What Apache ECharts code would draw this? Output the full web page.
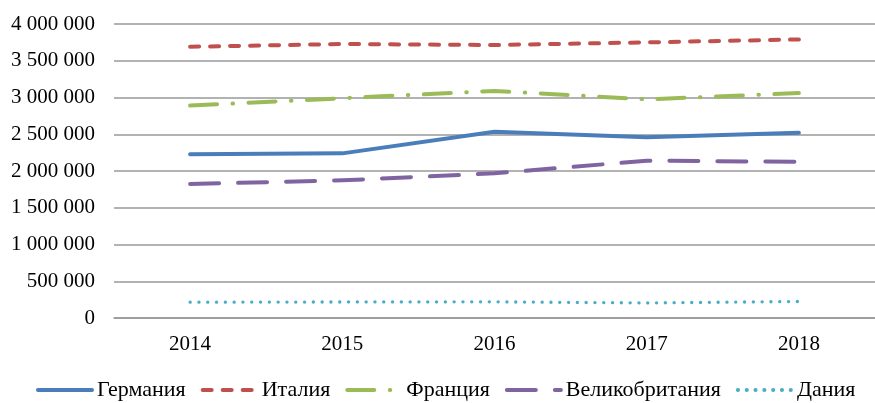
<!DOCTYPE html>
<html>
<head>
<meta charset="utf-8">
<script src="https://cdn.jsdelivr.net/npm/echarts@6/dist/echarts.min.js"></script>
<style>html,body{margin:0;padding:0;background:#fff;}#c{width:875px;height:403px;}</style>
</head>
<body>
<div id="c"></div>
<script>
const years = ['2014', '2015', '2016', '2017', '2018'];
const germany = [2227000, 2240000, 2535000, 2458000, 2520000];
const italy = [3690000, 3728000, 3714000, 3750000, 3790000];
const france = [2890000, 2990000, 3090000, 2975000, 3060000];
const uk = [1823000, 1873000, 1968000, 2140000, 2125000];
const denmark = [215000, 218000, 220000, 205000, 225000];
const seriesNames = ['Германия', 'Италия', 'Франция', 'Великобритания', 'Дания'];

const font = 'Liberation Serif';
function fmt(v) {
  return String(v).replace(/\B(?=(\d{3})+(?!\d))/g, ' ');
}
function mk(name, data, color, type, width) {
  return {
    name: name, type: 'line', data: data, symbol: 'none', smooth: false,
    lineStyle: { color: color, width: width, type: type, cap: 'round', join: 'round' },
    itemStyle: { color: color },
    emphasis: { disabled: true }
  };
}
const chart = echarts.init(document.getElementById('c'));
chart.setOption({
  animation: false,
  backgroundColor: '#fff',
  textStyle: { fontFamily: font },
  grid: { left: 114, right: -8, top: 24, bottom: 85, containLabel: false },
  legend: {
    left: 31, top: 374, itemWidth: 54, itemHeight: 14, itemGap: 15,
    itemStyle: { opacity: 0, borderWidth: 0 },
    lineStyle: { width: 4, cap: 'round' },
    textStyle: { fontFamily: font, fontSize: 22, color: '#000', padding: [0, 0, 0, 0] },
    data: seriesNames
  },
  xAxis: {
    type: 'category', data: years, boundaryGap: true,
    axisLine: { lineStyle: { color: '#999', width: 1.5 } },
    axisTick: { show: false },
    axisLabel: { fontFamily: font, fontSize: 21, color: '#000', margin: 16 }
  },
  yAxis: {
    type: 'value', min: 0, max: 4000000, interval: 500000,
    axisLine: { show: false }, axisTick: { show: false },
    splitLine: { lineStyle: { color: '#999', width: 1.5 } },
    axisLabel: { fontFamily: font, fontSize: 21, color: '#000', margin: 19, formatter: fmt }
  },
  series: [
    mk(seriesNames[0], germany, '#4a7ebb', 'solid', 4),
    mk(seriesNames[1], italy, '#c0504d', [9, 11], 4),
    mk(seriesNames[2], france, '#9bbb59', [27, 15.5, 0.5, 15.5], 4),
    mk(seriesNames[3], uk, '#8064a2', [29, 19], 4),
    mk(seriesNames[4], denmark, '#4bacc6', [0.1, 8.7], 3.3)
  ]
});
</script>
</body>
</html>
